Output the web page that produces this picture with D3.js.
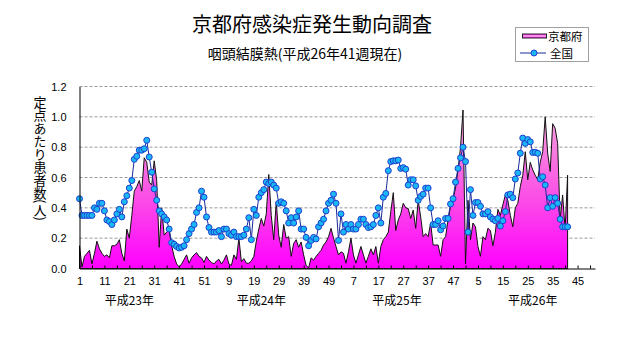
<!DOCTYPE html>
<html><head><meta charset="utf-8">
<script src="https://cdn.jsdelivr.net/npm/d3@7"></script>
<style>body{margin:0;background:#fff;} svg{display:block;}</style>
</head><body>
<svg id="chart" width="631" height="347"></svg>
<script>
// ---- data ----
const chartTitle = "京都府感染症発生動向調査";
const chartSubtitle = "咽頭結膜熱(平成26年41週現在)";
const yAxisTitle = "定点あたり患者数(人)";
const seriesNames = ["京都府", "全国"];
const weekTickLabels = ["1","11","21","31","41","51","9","19","29","39","49","7","17","27","37","47","5","15","25","35","45"];
const yearLabels = ["平成23年","平成24年","平成25年","平成26年"];
const yTickValues = [0, 0.2, 0.4, 0.6, 0.8, 1.0, 1.2];
const kyoto = [
 0.15,0.01,0.08,0.10,0.12,0.03,0.10,0.18,0.13,0.10,
 0.08,0.09,0.07,0.15,0.15,0.16,0.19,0.10,0.05,0.26,
 0.20,0.35,0.51,0.54,0.58,0.51,0.73,0.70,0.57,0.55,
 0.71,0.58,0.14,0.40,0.22,0.24,0.25,0.15,0.08,0.03,
 0.01,0.03,0.06,0.09,0.035,0.07,0.09,0.105,0.08,0.07,
 0.04,0.08,0.055,0.04,0.03,0.05,0.06,0.03,0.055,0.09,
 0.03,0.02,0.09,0.06,0.20,0.045,0.065,0.035,0.035,0.05,
 0.08,0.18,0.26,0.33,0.28,0.36,0.62,0.35,0.19,0.44,
 0.22,0.14,0.29,0.20,0.21,0.08,0.165,0.19,0.14,0.175,
 0.09,0.02,0.005,0.07,0.055,0.08,0.10,0.12,0.155,0.175,
 0.21,0.265,0.20,0.145,0.09,0.11,0.10,0.035,0.11,0.20,
 0.09,0.035,0.09,0.145,0.09,0.035,0.08,0.13,0.09,0.145,
 0.035,0.145,0.19,0.21,0.24,0.375,0.50,0.25,0.32,0.36,
 0.43,0.40,0.395,0.33,0.385,0.265,0.45,0.34,0.21,0.23,
 0.21,0.30,0.155,0.155,0.155,0.08,0.19,0.21,0.32,0.41,
 0.46,0.53,0.65,0.80,1.045,0.03,0.45,0.19,0.30,0.275,
 0.145,0.08,0.21,0.19,0.265,0.25,0.15,0.24,0.39,0.35,
 0.42,0.485,0.45,0.35,0.275,0.40,0.43,0.54,0.615,0.77,
 0.585,0.70,0.65,0.615,0.585,0.70,0.77,1.00,0.76,0.64,
 0.955,0.925,0.825,0.32,0.485,0.255,0.615
];
const national = [
 0.46,0.35,0.35,0.35,0.35,0.35,0.40,0.39,0.43,0.43,
 0.38,0.32,0.31,0.29,0.32,0.36,0.39,0.34,0.44,0.48,
 0.53,0.58,0.72,0.74,0.78,0.78,0.79,0.845,0.735,0.635,
 0.525,0.45,0.38,0.36,0.34,0.32,0.26,0.17,0.16,0.145,
 0.135,0.14,0.15,0.19,0.23,0.26,0.29,0.37,0.40,0.51,
 0.47,0.34,0.27,0.24,0.24,0.24,0.25,0.21,0.26,0.26,
 0.23,0.22,0.24,0.21,0.21,0.21,0.22,0.26,0.335,0.19,
 0.39,0.35,0.47,0.50,0.52,0.57,0.56,0.57,0.55,0.53,
 0.43,0.44,0.43,0.38,0.30,0.335,0.30,0.34,0.38,0.26,
 0.26,0.205,0.15,0.185,0.205,0.195,0.275,0.30,0.325,0.38,
 0.43,0.45,0.49,0.43,0.185,0.36,0.24,0.29,0.26,0.29,
 0.26,0.26,0.29,0.325,0.325,0.29,0.27,0.275,0.29,0.35,
 0.40,0.30,0.47,0.495,0.645,0.705,0.71,0.71,0.715,0.66,
 0.665,0.655,0.55,0.585,0.585,0.545,0.45,0.475,0.49,0.53,
 0.53,0.40,0.29,0.29,0.315,0.255,0.28,0.33,0.33,0.425,
 0.46,0.57,0.66,0.73,0.80,0.705,0.24,0.52,0.35,0.435,
 0.435,0.41,0.36,0.36,0.375,0.34,0.325,0.315,0.33,0.28,
 0.315,0.375,0.485,0.49,0.467,0.59,0.63,0.76,0.86,0.825,
 0.85,0.835,0.765,0.766,0.76,0.59,0.605,0.55,0.40,0.467,
 0.41,0.467,0.43,0.325,0.275,0.275,0.275
];

// ---- layout ----
const svg = d3.select("#chart");
const jp = "'Noto Sans CJK JP','Noto Sans',sans-serif";
const num = "'Liberation Sans',Arial,sans-serif";
const plotLeft = 79.5, plotRight = 595, plotTop = 86.5, plotBottom = 268.5;
const x = d3.scaleLinear().domain([0, 207]).range([plotLeft, plotRight]);
const y = d3.scaleLinear().domain([0, 1.2]).range([plotBottom, plotTop]);

const defs = svg.append("defs");
const grad = defs.append("linearGradient").attr("id","areaGrad")
  .attr("gradientUnits","userSpaceOnUse").attr("x1",0).attr("x2",0)
  .attr("y1", y(1.05)).attr("y2", y(0));
grad.append("stop").attr("offset","0%").attr("stop-color","#f4a6da");
grad.append("stop").attr("offset","55%").attr("stop-color","#fb4fe6");
grad.append("stop").attr("offset","100%").attr("stop-color","#ff00ff");
const lgrad = defs.append("linearGradient").attr("id","legGrad")
  .attr("x1",0).attr("x2",0).attr("y1",0).attr("y2",1);
lgrad.append("stop").attr("offset","0%").attr("stop-color","#ff00ff");
lgrad.append("stop").attr("offset","50%").attr("stop-color","#f8b8e4");
lgrad.append("stop").attr("offset","100%").attr("stop-color","#ff00ff");

// titles
svg.append("text").attr("x", 312).attr("y", 32).attr("text-anchor","middle")
  .attr("font-family", jp).attr("font-size", 20).attr("fill","#000").text(chartTitle);
svg.append("text").attr("x", 305).attr("y", 59).attr("text-anchor","middle")
  .attr("font-family", jp).attr("font-size", 14).attr("fill","#000").text(chartSubtitle);

// y axis title (vertical)
svg.append("text").attr("x", 40).attr("y", 158)
  .attr("text-anchor","middle")
  .attr("font-family", jp).attr("font-size", 13).attr("fill","#000")
  .style("writing-mode","vertical-rl")
  .text(yAxisTitle);

// gridlines
svg.append("g").selectAll("line").data(yTickValues.filter(v => v > 0)).join("line")
  .attr("x1", plotLeft).attr("x2", plotRight)
  .attr("y1", d => y(d)).attr("y2", d => y(d))
  .attr("stroke", "#9a9a9a").attr("stroke-width", 1).attr("stroke-dasharray", "3,2");

// Kyoto area
const area = d3.area().x((d,i) => x(i)).y0(y(0)).y1(d => y(d));
svg.append("path").datum(kyoto).attr("d", area)
  .attr("fill", "url(#areaGrad)").attr("stroke", "#111").attr("stroke-width", 1)
  .attr("stroke-linejoin","miter");

// National line + dots
const line = d3.line().x((d,i) => x(i)).y(d => y(d));
svg.append("path").datum(national).attr("d", line)
  .attr("fill","none").attr("stroke","#1a2a9a").attr("stroke-width",1);
svg.append("g").selectAll("circle").data(national).join("circle")
  .attr("cx", (d,i) => x(i)).attr("cy", d => y(d)).attr("r", 3)
  .attr("fill","#19b8f5").attr("stroke","#1f3fd0").attr("stroke-width",1);

// axes
const xAxis = d3.axisBottom(x)
  .tickValues(d3.range(0, 206, 5))
  .tickSizeInner(-3).tickSizeOuter(0).tickPadding(9)
  .tickFormat(i => i % 10 === 0 ? weekTickLabels[i / 10] : "");
const gx = svg.append("g").attr("transform", `translate(0,${plotBottom})`).call(xAxis);
gx.select(".domain").attr("stroke","#000");
gx.selectAll(".tick line").attr("stroke","#000");
gx.selectAll(".tick text").attr("font-family", num).attr("font-size", 11).attr("fill","#000");

const yAxis = d3.axisLeft(y).tickValues(yTickValues).tickSizeInner(0).tickSizeOuter(0)
  .tickPadding(13).tickFormat(d3.format(".1f"));
const gy = svg.append("g").attr("transform", `translate(${plotLeft},0)`).call(yAxis);
gy.select(".domain").attr("stroke","#000");
gy.selectAll(".tick text").attr("font-family", num).attr("font-size", 11).attr("fill","#000");

// year labels
const yearCenterIdx = [20, 73, 127.5, 182];
svg.append("g").selectAll("text").data(yearLabels).join("text")
  .attr("x", (d,i) => x(yearCenterIdx[i])).attr("y", 305)
  .attr("text-anchor","middle").attr("font-family", jp).attr("font-size", 12)
  .attr("fill","#000").text(d => d);

// legend
const lg = svg.append("g").attr("transform","translate(515,27)");
lg.append("rect").attr("x",0.5).attr("y",0.5).attr("width",73).attr("height",34)
  .attr("fill","#fff").attr("stroke","#a0a0a0");
lg.append("rect").attr("x",7.5).attr("y",7).attr("width",24).attr("height",4)
  .attr("fill","url(#legGrad)").attr("stroke","#222");
lg.append("text").attr("x",33).attr("y",13.5).attr("font-family",jp).attr("font-size",11.5)
  .attr("fill","#000").text(seriesNames[0]);
lg.append("line").attr("x1",5).attr("x2",31).attr("y1",26).attr("y2",26)
  .attr("stroke","#1a2a9a");
lg.append("circle").attr("cx",19).attr("cy",26).attr("r",3)
  .attr("fill","#19b8f5").attr("stroke","#1f3fd0");
lg.append("text").attr("x",35).attr("y",30.5).attr("font-family",jp).attr("font-size",11.5)
  .attr("fill","#000").text(seriesNames[1]);
</script>
</body></html>
